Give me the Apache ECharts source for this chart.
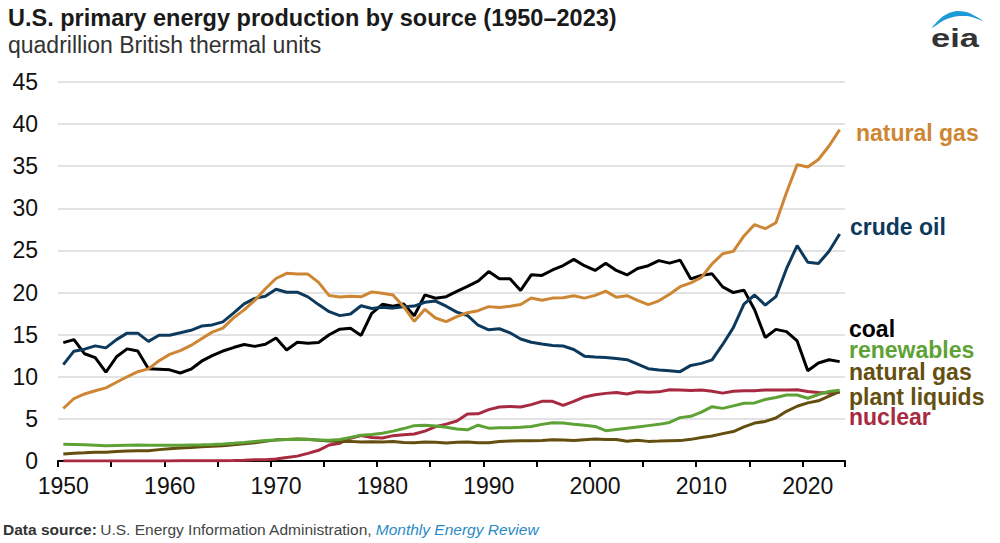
<!DOCTYPE html>
<html>
<head>
<meta charset="utf-8">
<script src="https://cdn.jsdelivr.net/npm/echarts@6/dist/echarts.min.js"></script>
<style>
  html, body { margin: 0; padding: 0; background: #fff; }
  #chart { width: 1000px; height: 543px; }
</style>
</head>
<body>
<div id="chart"></div>
<script>
const years = [
  '1950','1951','1952','1953','1954','1955','1956','1957','1958','1959',
  '1960','1961','1962','1963','1964','1965','1966','1967','1968','1969',
  '1970','1971','1972','1973','1974','1975','1976','1977','1978','1979',
  '1980','1981','1982','1983','1984','1985','1986','1987','1988','1989',
  '1990','1991','1992','1993','1994','1995','1996','1997','1998','1999',
  '2000','2001','2002','2003','2004','2005','2006','2007','2008','2009',
  '2010','2011','2012','2013','2014','2015','2016','2017','2018','2019',
  '2020','2021','2022','2023'
];

const naturalGas = [
  6.23, 7.42, 7.96, 8.34, 8.68, 9.35, 10.00, 10.60, 10.94, 11.90,
  12.66, 13.11, 13.72, 14.51, 15.30, 15.78, 16.99, 17.94, 19.07, 20.45,
  21.67, 22.28, 22.21, 22.19, 21.21, 19.64, 19.48, 19.57, 19.49, 20.08,
  19.91, 19.70, 18.32, 16.59, 18.01, 16.98, 16.54, 17.14, 17.60, 17.85,
  18.33, 18.23, 18.38, 18.58, 19.35, 19.08, 19.34, 19.39, 19.61, 19.34,
  19.66, 20.17, 19.44, 19.63, 19.07, 18.56, 19.02, 19.79, 20.70, 21.14,
  21.81, 23.41, 24.61, 24.89, 26.72, 28.07, 27.58, 28.29, 31.88, 35.19,
  34.91, 35.80, 37.40, 39.35
];

const crudeOil = [
  11.45, 13.04, 13.28, 13.67, 13.43, 14.41, 15.18, 15.18, 14.20, 14.93,
  14.93, 15.22, 15.52, 16.02, 16.16, 16.52, 17.56, 18.65, 19.31, 19.56,
  20.40, 20.03, 20.04, 19.49, 18.57, 17.73, 17.26, 17.45, 18.43, 18.10,
  18.25, 18.15, 18.31, 18.39, 18.85, 18.99, 18.38, 17.68, 17.28, 16.12,
  15.57, 15.70, 15.22, 14.49, 14.10, 13.89, 13.72, 13.66, 13.24, 12.45,
  12.36, 12.28, 12.16, 12.03, 11.50, 10.96, 10.80, 10.72, 10.61, 11.35,
  11.59, 12.01, 13.84, 15.84, 18.62, 19.71, 18.51, 19.51, 22.83, 25.58,
  23.59, 23.44, 24.90, 26.95
];

const coal = [
  14.06, 14.41, 12.73, 12.28, 10.54, 12.37, 13.31, 13.06, 10.96, 10.89,
  10.82, 10.45, 10.90, 11.85, 12.52, 13.06, 13.47, 13.83, 13.61, 13.86,
  14.61, 13.19, 14.09, 13.99, 14.07, 14.99, 15.65, 15.76, 14.91, 17.54,
  18.60, 18.38, 18.64, 17.25, 19.72, 19.33, 19.51, 20.14, 20.74, 21.36,
  22.49, 21.64, 21.63, 20.25, 22.11, 22.03, 22.68, 23.21, 23.94, 23.19,
  22.62, 23.49, 22.62, 22.09, 22.85, 23.19, 23.79, 23.49, 23.85, 21.62,
  22.04, 22.22, 20.68, 20.00, 20.29, 17.95, 14.67, 15.63, 15.36, 14.26,
  10.71, 11.63, 12.02, 11.80
];

const renewables = [
  2.00, 1.97, 1.93, 1.88, 1.82, 1.85, 1.88, 1.90, 1.88, 1.86,
  1.86, 1.87, 1.90, 1.92, 1.97, 2.03, 2.10, 2.20, 2.32, 2.42,
  2.50, 2.55, 2.57, 2.55, 2.50, 2.45, 2.55, 2.80, 3.05, 3.15,
  3.30, 3.55, 3.85, 4.20, 4.25, 4.15, 4.00, 3.80, 3.70, 4.25,
  3.90, 3.95, 3.95, 4.00, 4.10, 4.35, 4.55, 4.50, 4.35, 4.25,
  4.10, 3.60, 3.75, 3.90, 4.05, 4.20, 4.35, 4.58, 5.15, 5.30,
  5.80, 6.45, 6.25, 6.55, 6.85, 6.90, 7.30, 7.55, 7.83, 7.83,
  7.45, 7.90, 8.25, 8.40
];

const ngpl = [
  0.82, 0.93, 0.97, 1.03, 1.05, 1.14, 1.20, 1.22, 1.23, 1.35,
  1.46, 1.54, 1.59, 1.68, 1.74, 1.80, 1.93, 2.04, 2.18, 2.33,
  2.51, 2.54, 2.60, 2.57, 2.47, 2.37, 2.33, 2.33, 2.25, 2.29,
  2.25, 2.31, 2.19, 2.18, 2.27, 2.24, 2.15, 2.22, 2.26, 2.16,
  2.17, 2.31, 2.36, 2.41, 2.39, 2.44, 2.53, 2.50, 2.42, 2.53,
  2.61, 2.55, 2.56, 2.35, 2.47, 2.33, 2.36, 2.41, 2.42, 2.57,
  2.78, 2.97, 3.25, 3.50, 4.05, 4.50, 4.70, 5.10, 5.90, 6.50,
  6.90, 7.15, 7.70, 8.25
];

const nuclear = [
  0.00, 0.00, 0.00, 0.00, 0.00, 0.00, 0.00, 0.00, 0.00, 0.00,
  0.01, 0.02, 0.03, 0.04, 0.04, 0.04, 0.06, 0.09, 0.14, 0.15,
  0.24, 0.41, 0.58, 0.91, 1.27, 1.90, 2.11, 2.70, 3.02, 2.78,
  2.74, 3.01, 3.13, 3.20, 3.55, 4.08, 4.38, 4.75, 5.59, 5.60,
  6.10, 6.42, 6.48, 6.41, 6.69, 7.08, 7.09, 6.60, 7.07, 7.61,
  7.86, 8.03, 8.14, 7.96, 8.22, 8.16, 8.21, 8.46, 8.43, 8.36,
  8.43, 8.27, 8.06, 8.27, 8.34, 8.34, 8.43, 8.42, 8.44, 8.45,
  8.25, 8.13, 8.06, 8.15
];

const yTicks = { min: 0, max: 45, interval: 5 };

const colors = {
  naturalGas: '#cd8633',
  crudeOil: '#0d3a5c',
  coal: '#000000',
  renewables: '#5ea235',
  ngpl: '#644f10',
  nuclear: '#a82a40'
};

const FONT = '"Liberation Sans", Arial, Helvetica, sans-serif';

const chart = echarts.init(document.getElementById('chart'), null, { renderer: 'svg' });

function line(name, data, color) {
  return {
    name: name,
    type: 'line',
    data: data,
    symbol: 'none',
    smooth: false,
    lineStyle: { color: color, width: 3 },
    itemStyle: { color: color },
    emphasis: { disabled: true },
    z: 3
  };
}

function label(text, x, y, color) {
  return {
    type: 'text', x: x, y: y,
    style: { text: text, fill: color, fontFamily: FONT, fontSize: 23, fontWeight: 'bold', verticalAlign: 'middle' }
  };
}

const option = {
  animation: false,
  backgroundColor: '#ffffff',
  textStyle: { fontFamily: FONT },
  title: {
    text: 'U.S. primary energy production by source (1950\u20132023)',
    subtext: 'quadrillion British thermal units',
    left: 3,
    top: 1,
    itemGap: 3,
    textStyle: { fontFamily: FONT, fontSize: 23.5, fontWeight: 'bold', color: '#1a1a1a' },
    subtextStyle: { fontFamily: FONT, fontSize: 23, color: '#333333' }
  },
  grid: { left: 58, right: 155, top: 82, bottom: 82, containLabel: false },
  xAxis: {
    type: 'category',
    data: years,
    boundaryGap: true,
    axisLine: { lineStyle: { color: '#000', width: 2 } },
    axisTick: { show: true, interval: 4, length: 6, lineStyle: { color: '#000', width: 2 } },
    axisLabel: { interval: 9, fontSize: 23, color: '#111', margin: 13, fontFamily: FONT },
    splitLine: { show: false }
  },
  yAxis: {
    type: 'value',
    min: yTicks.min,
    max: yTicks.max,
    interval: yTicks.interval,
    axisLine: { show: false },
    axisTick: { show: false },
    axisLabel: { fontSize: 23, color: '#111', margin: 20, fontFamily: FONT },
    splitLine: { lineStyle: { color: '#d9d9d9', width: 1.5 } }
  },
  series: [
    line('nuclear', nuclear, colors.nuclear),
    line('natural gas plant liquids', ngpl, colors.ngpl),
    line('renewables', renewables, colors.renewables),
    line('coal', coal, colors.coal),
    line('crude oil', crudeOil, colors.crudeOil),
    line('natural gas', naturalGas, colors.naturalGas)
  ],
  graphic: [
    label('natural gas', 856, 133, colors.naturalGas),
    label('crude oil', 850, 227, colors.crudeOil),
    label('coal', 849, 329, colors.coal),
    label('renewables', 849, 350, colors.renewables),
    label('natural gas', 849, 372, colors.ngpl),
    label('plant liquids', 849, 397, colors.ngpl),
    label('nuclear', 849, 417, colors.nuclear),
    {
      type: 'text', x: 3, y: 529,
      style: {
        text: '{b|Data source:} {n|U.S. Energy Information Administration,} {i|Monthly Energy Review}',
        verticalAlign: 'middle',
        rich: {
          b: { fontFamily: FONT, fontSize: 15.5, fontWeight: 'bold', fill: '#333' },
          n: { fontFamily: FONT, fontSize: 15.5, fill: '#444' },
          i: { fontFamily: FONT, fontSize: 15.5, fontStyle: 'italic', fill: '#2a8bc4' }
        }
      }
    },
    {
      type: 'polygon',
      shape: {
        points: [[932, 28], [943.05, 16.31], [955.25, 11.25], [968.55, 12.81], [983, 21],
                 [970.05, 16.56], [957.25, 16.25], [944.55, 20.06]],
        smooth: 0.3
      },
      style: { fill: '#1d9ad6' }
    },
    {
      type: 'text', x: 931, y: 38, scaleX: 1.38,
      style: { text: 'eia', fill: '#333333', fontFamily: FONT, fontSize: 25, fontWeight: 'bold', verticalAlign: 'middle' }
    }
  ]
};

chart.setOption(option);
</script>
</body>
</html>
